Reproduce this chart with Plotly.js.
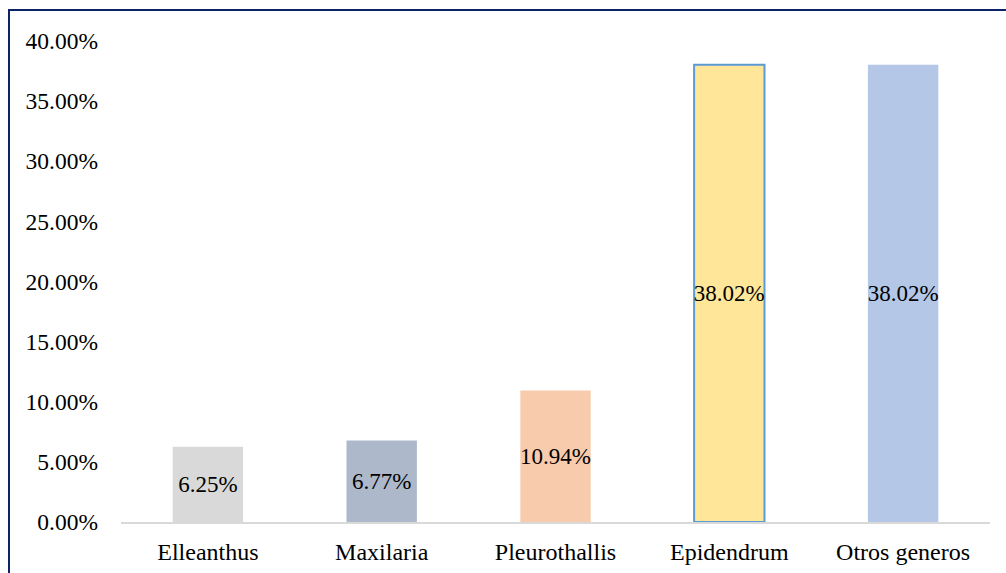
<!DOCTYPE html>
<html>
<head>
<meta charset="utf-8">
<script src="https://cdn.plot.ly/plotly-3.0.1.min.js"></script>
<style>
  html, body { margin: 0; padding: 0; background: #fff; overflow: hidden; }
  #chart { width: 1006px; height: 573px; position: absolute; left: 0; top: 0; }
  #frame { position: absolute; left: 8px; top: 9px; width: 1200px; height: 800px;
           border: 2px solid #0b2466; pointer-events: none; }
</style>
</head>
<body>
<div id="chart"></div>
<div id="frame"></div>
<script>
const categories = ["Elleanthus", "Maxilaria", "Pleurothallis", "Epidendrum", "Otros generos"];
const shares = [0.0625, 0.0677, 0.1094, 0.3802, 0.3802];
const barColors = ["#d9d9d9", "#adb9ca", "#f8cbad", "#ffe699", "#b4c7e7"];
const barLineColors = ["#d9d9d9", "#adb9ca", "#f8cbad", "#5b9bd5", "#b4c7e7"];
const barLineWidths = [0, 0, 0, 2, 0];
const yTicks = [0, 0.05, 0.10, 0.15, 0.20, 0.25, 0.30, 0.35, 0.40];

const font = "Liberation Serif";

const trace = {
  type: "bar",
  x: categories,
  y: shares,
  marker: { color: barColors, line: { color: barLineColors, width: barLineWidths } },
  text: shares.map(v => (v * 100).toFixed(2) + "%"),
  textposition: "inside",
  insidetextanchor: "middle",
  textangle: 0,
  constraintext: "none",
  textfont: { family: font, size: 23, color: "#000" },
  hoverinfo: "none",
  cliponaxis: false
};

const layout = {
  width: 1006, height: 573,
  margin: { l: 121, r: 16, t: 41, b: 51 },
  paper_bgcolor: "#fff", plot_bgcolor: "#fff",
  showlegend: false,
  bargap: 0.595,
  font: { family: font, size: 23, color: "#000" },
  xaxis: {
    showgrid: false, showline: true, linecolor: "#d9d9d9", linewidth: 2,
    ticks: "", ticklabelstandoff: 7,
    tickfont: { family: font, size: 24, color: "#000" },
    zeroline: false, fixedrange: true
  },
  yaxis: {
    range: [0, 0.40], tickvals: yTicks, tickformat: ".2%",
    showgrid: false, showline: false, zeroline: false, ticks: "",
    ticklabelstandoff: 22,
    tickfont: { family: font, size: 23.5, color: "#000" }, fixedrange: true
  }
};

Plotly.newPlot("chart", [trace], layout, { displayModeBar: false, staticPlot: true });
</script>
</body>
</html>
